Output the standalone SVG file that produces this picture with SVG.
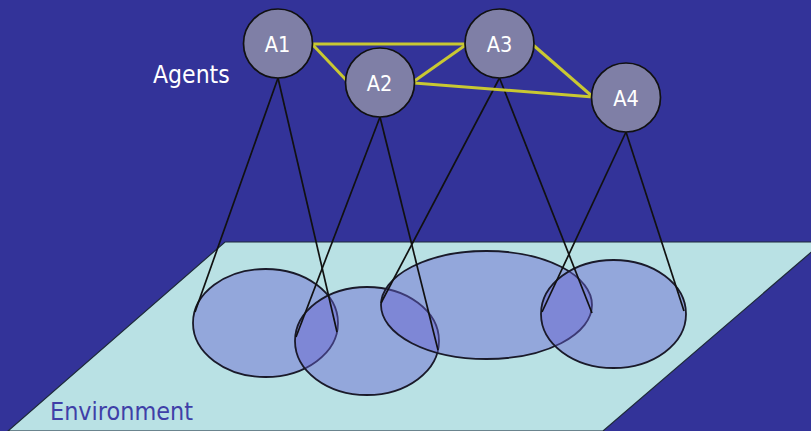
<svg xmlns="http://www.w3.org/2000/svg" width="811" height="431" viewBox="0 0 811 431">
  <style>
    .ground { fill: #b9e1e4; stroke: #1e2a3a; stroke-width: 1.2; }
    .zone { fill: #6661d1; fill-opacity: 0.45; stroke: #1a1a2a; stroke-width: 1.8; }
    .cone { stroke: #111111; stroke-width: 1.7; fill: none; }
    .link { stroke: #c9c832; stroke-width: 3; fill: none; }
    .agent { fill: #7f7fa6; stroke: #111111; stroke-width: 1.7; }
    .label { fill: #ffffff; font-family: "DejaVu Sans Condensed", "DejaVu Sans", sans-serif; font-size: 21.5px; text-anchor: middle; }
    .caption { font-family: "DejaVu Sans Condensed", "DejaVu Sans", sans-serif; font-size: 24.5px; }
  </style>

  <!-- backdrop -->
  <rect x="0" y="0" width="811" height="431" fill="#333399"/>

  <!-- environment plane -->
  <g id="environment">
    <polygon class="ground" points="225,242 823,242 603,431 8,431"/>
    <text class="caption" x="50" y="420" fill="#3f3fa8" textLength="143" lengthAdjust="spacingAndGlyphs">Environment</text>
  </g>

  <!-- perception zones on the plane -->
  <g id="zones">
    <ellipse id="zone-a1" class="zone" cx="265.5" cy="323" rx="72.5" ry="54"/>
    <ellipse id="zone-a2" class="zone" cx="367" cy="341" rx="72" ry="54"/>
    <ellipse id="zone-a3" class="zone" cx="486.5" cy="305" rx="105.5" ry="54"/>
    <ellipse id="zone-a4" class="zone" cx="613.5" cy="314" rx="72.5" ry="54"/>
  </g>

  <!-- connectors: view cones and agent links -->
  <g id="connectors">
    <line class="cone" x1="278" y1="78" x2="195" y2="312"/>
    <line class="cone" x1="278" y1="78" x2="337" y2="332"/>
    <line class="cone" x1="380" y1="117" x2="296" y2="337"/>
    <line class="cone" x1="380" y1="117" x2="438" y2="350"/>
    <line class="cone" x1="499.5" y1="78" x2="381" y2="303"/>
    <line class="cone" x1="499.5" y1="78" x2="592" y2="313"/>
    <line class="cone" x1="626" y1="132" x2="542" y2="312"/>
    <line class="cone" x1="626" y1="132" x2="684" y2="311"/>

    <line class="link" x1="312" y1="44" x2="466" y2="44"/>
    <line class="link" x1="312" y1="44" x2="348" y2="82"/>
    <line class="link" x1="413" y1="82" x2="467" y2="44"/>
    <line class="link" x1="414" y1="83" x2="593" y2="97"/>
    <line class="link" x1="532" y1="44" x2="593" y2="97"/>
  </g>

  <!-- agents -->
  <g id="agent-a1">
    <circle class="agent" cx="278" cy="43.5" r="34.5"/>
    <text class="label" x="277.5" y="51.5">A1</text>
  </g>
  <g id="agent-a2">
    <circle class="agent" cx="380" cy="82.5" r="34.5"/>
    <text class="label" x="379.5" y="90.5">A2</text>
  </g>
  <g id="agent-a3">
    <circle class="agent" cx="499.5" cy="43.5" r="34.5"/>
    <text class="label" x="499.5" y="51.5">A3</text>
  </g>
  <g id="agent-a4">
    <circle class="agent" cx="626" cy="97.5" r="34.5"/>
    <text class="label" x="626" y="106">A4</text>
  </g>

  <text id="agents-caption" class="caption" x="153" y="83" fill="#ffffff">Agents</text>
</svg>
